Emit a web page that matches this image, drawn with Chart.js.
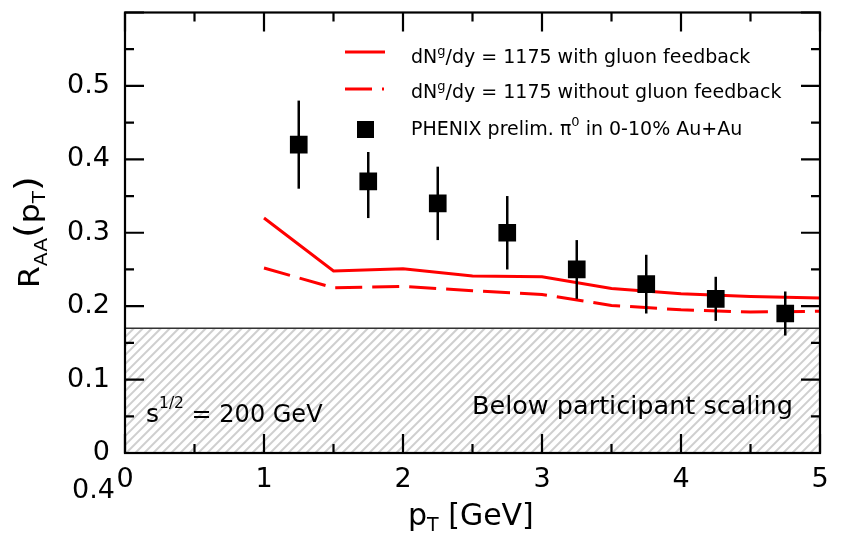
<!DOCTYPE html>
<html>
<head>
<meta charset="utf-8">
<title>R_AA vs pT</title>
<script src="https://cdn.jsdelivr.net/npm/chart.js@4"></script>
<style>
  body { margin: 0; background: #fff; }
  canvas { display: block; }
</style>
</head>
<body>
<canvas id="raaChart" width="846" height="537"></canvas>
<script>
// theory curves, sampled every 0.5 GeV
const ptTheory = [1, 1.5, 2, 2.5, 3, 3.5, 4, 4.5, 5];
const raaWithFeedback = [0.320, 0.248, 0.251, 0.241, 0.240, 0.224, 0.217, 0.213, 0.211];
const raaWithoutFeedback = [0.252, 0.225, 0.227, 0.221, 0.216, 0.201, 0.195, 0.192, 0.193];

// PHENIX preliminary pi0 points with error bars
const ptPhenix = [1.25, 1.75, 2.25, 2.75, 3.25, 3.75, 4.25, 4.75];
const raaPhenix = [0.42, 0.37, 0.34, 0.30, 0.25, 0.23, 0.21, 0.19];
const errLow = [0.06, 0.05, 0.05, 0.05, 0.04, 0.04, 0.03, 0.03];
const errHigh = [0.06, 0.04, 0.05, 0.05, 0.04, 0.04, 0.03, 0.03];

// everything below this is "below participant scaling"
const participantScaling = 0.17;

const xTickLabels = ["0", "1", "2", "3", "4", "5"];
const yTickLabels = ["0", "0.1", "0.2", "0.3", "0.4", "0.5", ""];

const FONT = "DejaVu Sans";

function toPoints(xs, ys) {
  return xs.map((x, i) => ({ x: x, y: ys[i] }));
}

// draws a run of text pieces, each with its own size and baseline shift
function drawRich(ctx, x, y, parts) {
  let cx = x;
  parts.forEach((p) => {
    ctx.font = p.size + "px '" + FONT + "'";
    ctx.fillText(p.t, cx, y + (p.dy || 0));
    cx += ctx.measureText(p.t).width;
  });
}

const decorPlugin = {
  id: "decor",
  beforeDatasetsDraw(chart) {
    const { ctx, chartArea, scales } = chart;
    const yTop = scales.y.getPixelForValue(participantScaling);
    const h = chartArea.bottom - yTop;

    // hatched band
    ctx.save();
    ctx.beginPath();
    ctx.rect(chartArea.left, yTop, chartArea.right - chartArea.left, h);
    ctx.clip();
    ctx.strokeStyle = "#cfcfcf";
    ctx.lineWidth = 2;
    for (let x = chartArea.left - h; x < chartArea.right + 10; x += 9) {
      ctx.beginPath();
      ctx.moveTo(x, chartArea.bottom);
      ctx.lineTo(x + h, yTop);
      ctx.stroke();
    }
    ctx.restore();

    ctx.save();
    ctx.strokeStyle = "#333";
    ctx.lineWidth = 1.5;
    ctx.beginPath();
    ctx.moveTo(chartArea.left, yTop);
    ctx.lineTo(chartArea.right, yTop);
    ctx.stroke();

    ctx.fillStyle = "#000";
    ctx.textBaseline = "alphabetic";
    ctx.textAlign = "left";
    drawRich(ctx, 146, 422, [
      { t: "s", size: 25 },
      { t: "1/2", size: 15.5, dy: -14 },
      { t: " = 200 GeV", size: 24 },
    ]);
    drawRich(ctx, 472, 414, [{ t: "Below participant scaling", size: 25.5 }]);
    ctx.restore();
  },
  afterDatasetsDraw(chart) {
    const { ctx, scales } = chart;
    ctx.save();
    ctx.strokeStyle = "#000";
    ctx.lineWidth = 2.5;
    ptPhenix.forEach((pt, i) => {
      const px = scales.x.getPixelForValue(pt);
      ctx.beginPath();
      ctx.moveTo(px, scales.y.getPixelForValue(raaPhenix[i] + errHigh[i]));
      ctx.lineTo(px, scales.y.getPixelForValue(raaPhenix[i] - errLow[i]));
      ctx.stroke();
    });
    ctx.restore();
  },
  afterDraw(chart) {
    const { ctx, chartArea, scales } = chart;
    const { left, right, top, bottom } = chartArea;
    ctx.save();
    ctx.strokeStyle = "#000";
    ctx.lineWidth = 2.2;
    ctx.strokeRect(left, top, right - left, bottom - top);

    // inward ticks on all four sides
    ctx.beginPath();
    for (let v = 0; v <= 5.001; v += 0.5) {
      const len = Math.abs(v - Math.round(v)) < 1e-6 ? 19 : 9;
      const px = scales.x.getPixelForValue(v);
      ctx.moveTo(px, bottom);
      ctx.lineTo(px, bottom - len);
      ctx.moveTo(px, top);
      ctx.lineTo(px, top + len);
    }
    for (let k = 0; k <= 12; k++) {
      const len = k % 2 === 0 ? 19 : 9;
      const py = scales.y.getPixelForValue(k * 0.05);
      ctx.moveTo(left, py);
      ctx.lineTo(left + len, py);
      ctx.moveTo(right, py);
      ctx.lineTo(right - len, py);
    }
    ctx.stroke();

    // legend
    ctx.lineWidth = 3;
    ctx.strokeStyle = "#ff0000";
    ctx.beginPath();
    ctx.moveTo(345, 52);
    ctx.lineTo(385, 52);
    ctx.stroke();
    ctx.setLineDash([27, 10]);
    ctx.beginPath();
    ctx.moveTo(345, 89);
    ctx.lineTo(384, 89);
    ctx.stroke();
    ctx.setLineDash([]);
    ctx.fillStyle = "#000";
    ctx.fillRect(357, 121, 17, 17);

    ctx.textAlign = "left";
    ctx.textBaseline = "alphabetic";
    drawRich(ctx, 411, 63, [
      { t: "dN", size: 19 },
      { t: "g", size: 13, dy: -8 },
      { t: "/dy = 1175 with gluon feedback", size: 19 },
    ]);
    drawRich(ctx, 411, 98, [
      { t: "dN", size: 19 },
      { t: "g", size: 13, dy: -8 },
      { t: "/dy = 1175 without gluon feedback", size: 19 },
    ]);
    drawRich(ctx, 411, 135, [
      { t: "PHENIX prelim. \u03c0", size: 19 },
      { t: "0", size: 13, dy: -9 },
      { t: " in 0-10% Au+Au", size: 19 },
    ]);

    // axis titles
    drawRich(ctx, 408, 525, [
      { t: "p", size: 30 },
      { t: "T", size: 19, dy: 6 },
      { t: " [GeV]", size: 30 },
    ]);
    ctx.translate(39, 288);
    ctx.rotate(-Math.PI / 2);
    ctx.scale(1.12, 1);
    drawRich(ctx, 0, 0, [
      { t: "R", size: 28 },
      { t: "AA", size: 18, dy: 8 },
      { t: "(", size: 34 },
      { t: "p", size: 28 },
      { t: "T", size: 18, dy: 6 },
      { t: ")", size: 34 },
    ]);
    ctx.restore();

    // stray label under the origin
    ctx.save();
    ctx.fillStyle = "#000";
    ctx.textAlign = "right";
    ctx.textBaseline = "middle";
    ctx.font = "27px '" + FONT + "'";
    ctx.fillText("0.4", 115, 491);
    ctx.restore();
  },
};

document.addEventListener("DOMContentLoaded", function () {
  const ctx = document.getElementById("raaChart").getContext("2d");

  new Chart(ctx, {
    type: "scatter",
    data: {
      datasets: [
        {
          label: "PHENIX prelim. pi0 in 0-10% Au+Au",
          data: toPoints(ptPhenix, raaPhenix),
          pointStyle: "rect",
          pointRadius: 12.5,
          pointHoverRadius: 12.5,
          pointBorderWidth: 0,
          backgroundColor: "#000",
          borderColor: "#000",
          order: 0,
        },
        {
          label: "dNg/dy = 1175 with gluon feedback",
          data: toPoints(ptTheory, raaWithFeedback),
          showLine: true,
          borderColor: "#ff0000",
          borderWidth: 3,
          pointRadius: 0,
          tension: 0,
          fill: false,
          order: 1,
        },
        {
          label: "dNg/dy = 1175 without gluon feedback",
          data: toPoints(ptTheory, raaWithoutFeedback),
          showLine: true,
          borderColor: "#ff0000",
          borderWidth: 3,
          borderDash: [27, 10],
          pointRadius: 0,
          tension: 0,
          fill: false,
          order: 2,
        },
      ],
    },
    options: {
      responsive: false,
      animation: false,
      layout: { padding: { top: 10, right: 26, left: 0, bottom: 0 } },
      plugins: {
        legend: { display: false },
        tooltip: { enabled: false },
      },
      scales: {
        x: {
          type: "linear",
          min: 0,
          max: 5,
          grid: { display: false },
          border: { display: false },
          ticks: {
            stepSize: 1,
            maxRotation: 0,
            color: "#000",
            padding: 3,
            font: { family: FONT, size: 27 },
            callback: (v) => xTickLabels[Math.round(v)],
          },
          afterFit(scale) {
            scale.height = 84;
            scale.paddingLeft = 0;
            scale.paddingRight = 0;
          },
        },
        y: {
          type: "linear",
          min: 0,
          max: 0.6,
          grid: { display: false },
          border: { display: false },
          ticks: {
            stepSize: 0.1,
            color: "#000",
            padding: 7,
            font: { family: FONT, size: 27 },
            callback: (v) => yTickLabels[Math.round(v * 10)],
          },
          afterFit(scale) {
            scale.width = 125;
            scale.paddingTop = 0;
            scale.paddingBottom = 0;
          },
        },
      },
    },
    plugins: [decorPlugin],
  });
});
</script>
</body>
</html>
